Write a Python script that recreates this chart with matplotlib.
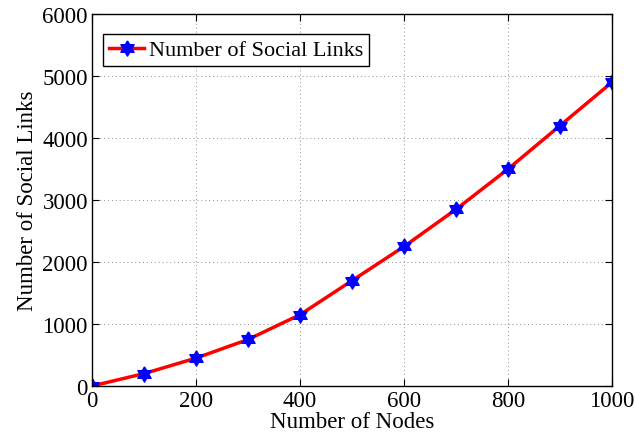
import matplotlib
matplotlib.use("Agg")
from matplotlib import pyplot as plt
import numpy as np

nodes = [0, 100, 200, 300, 400, 500, 600, 700, 800, 900, 1000]
social_links = [0, 200, 450, 750, 1150, 1700, 2250, 2850, 3500, 4200, 4900]

plt.rcParams["font.family"] = ["Liberation Serif", "DejaVu Serif"]

# six-pointed star (hexagram) marker
ang_out = np.deg2rad(90 + 60 * np.arange(6))
ang_in = ang_out + np.deg2rad(30)
r_in = 1 / np.sqrt(3)
hexagram = []
for a, b in zip(ang_out, ang_in):
    hexagram.append((np.cos(a), np.sin(a)))
    hexagram.append((r_in * np.cos(b), r_in * np.sin(b)))
hexagram.append(hexagram[0])

fig = plt.figure(figsize=(6.35, 4.39), dpi=100)
ax = fig.add_axes([0.145, 0.1185, 0.819, 0.8475])

ax.plot(nodes, social_links, color="red", linewidth=2.5,
        marker=hexagram, markersize=11, markerfacecolor="blue",
        markeredgecolor="blue", label="Number of Social Links")

ax.set_xlim(0, 1000)
ax.set_ylim(0, 6000)
ax.set_xticks(range(0, 1001, 200))
ax.set_yticks(range(0, 6001, 1000))
ax.grid(True, linestyle=(0, (1, 3)), color="0.55", linewidth=0.7)
ax.tick_params(direction="in", top=True, right=True, labelsize=16.5,
               length=5, pad=3)
for s in ax.spines.values():
    s.set_linewidth(1.0)

ax.set_xlabel("Number of Nodes", fontsize=16.5, labelpad=0)
ax.set_ylabel("Number of Social Links", fontsize=16.5, labelpad=3)

leg = ax.legend(loc="upper left", fontsize=16, fancybox=False, framealpha=1,
                edgecolor="black", borderpad=0.25, handlelength=1.6,
                handletextpad=0.2, bbox_to_anchor=(0.0, 0.975))
leg.get_frame().set_linewidth(1.0)

fig.savefig("out.png", dpi=100)
